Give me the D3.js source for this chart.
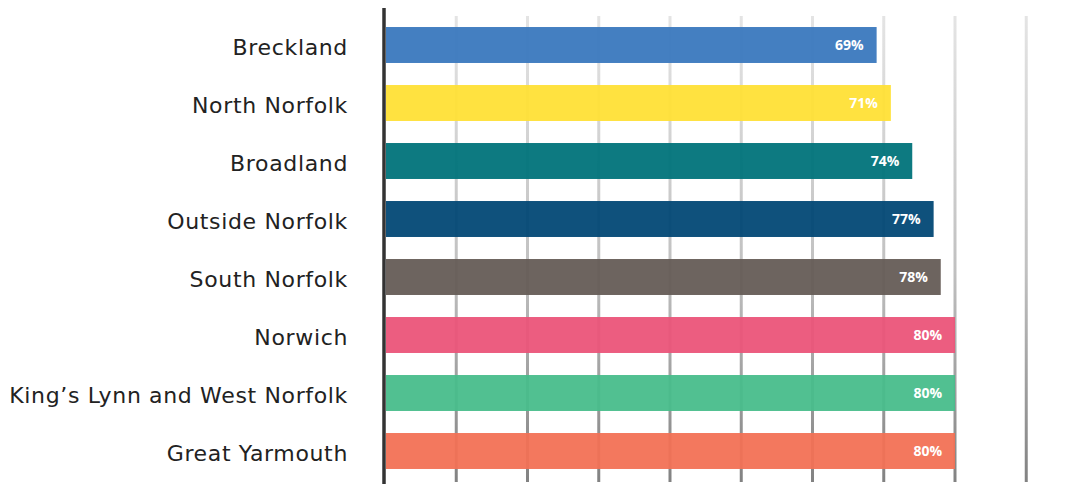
<!DOCTYPE html>
<html>
<head>
<meta charset="utf-8">
<script src="https://cdn.jsdelivr.net/npm/d3@7"></script>
<style>
  body { margin: 0; background: #fff; }
  svg { display: block; }
</style>
</head>
<body>
<svg id="chart"></svg>
<script>
var width = 1088;
var height = 484;

// data
var areas = ["Breckland", "North Norfolk", "Broadland", "Outside Norfolk",
  "South Norfolk", "Norwich", "King\u2019s Lynn and West Norfolk", "Great Yarmouth"];
var values = [69, 71, 74, 77, 78, 80, 80, 80];
var colors = ["#3a78be", "#ffe036", "#00737a", "#024875", "#655c56", "#eb5479", "#48bd8b", "#f27155"];
var gridTicks = [10, 20, 30, 40, 50, 60, 70, 80, 90];

var rows = areas.map(function (a, i) { return { name: a, value: values[i], color: colors[i] }; });

var svg = d3.select("#chart").attr("width", width).attr("height", height);

var x = d3.scaleLinear().domain([0, 100]).range([385, 1097.5]);
var y = d3.scaleBand().domain(areas).range([16, 480]).paddingInner(0.38).paddingOuter(0.19);

// gradient for the grid lines (light at top, dark at bottom)
var defs = svg.append("defs");
var grad = defs.append("linearGradient").attr("id", "gridGrad")
  .attr("gradientUnits", "userSpaceOnUse")
  .attr("x1", 0).attr("y1", 16).attr("x2", 0).attr("y2", 482);
grad.append("stop").attr("offset", "0%").attr("stop-color", "#e4e4e4");
grad.append("stop").attr("offset", "55%").attr("stop-color", "#c0c0c0");
grad.append("stop").attr("offset", "100%").attr("stop-color", "#828282");

// grid lines, behind the bars
svg.append("g").selectAll("line").data(gridTicks).enter().append("line")
  .attr("x1", function (d) { return x(d); })
  .attr("x2", function (d) { return x(d); })
  .attr("y1", 16).attr("y2", 482)
  .attr("stroke", "url(#gridGrad)")
  .attr("stroke-width", 3);

// bars, slightly see-through so the grid shows faintly
svg.append("g").selectAll("rect").data(rows).enter().append("rect")
  .attr("x", x(0) + 1)
  .attr("y", function (d) { return y(d.name); })
  .attr("width", function (d) { return x(d.value) - x(0) - 1; })
  .attr("height", y.bandwidth())
  .attr("fill", function (d) { return d.color; })
  .attr("fill-opacity", 0.95);

// vertical axis line
svg.append("line")
  .attr("x1", x(0) - 1).attr("x2", x(0) - 1)
  .attr("y1", 8).attr("y2", 484)
  .attr("stroke", "#333")
  .attr("stroke-width", 3.5);

// category labels
svg.append("g").selectAll("text").data(rows).enter().append("text")
  .attr("x", 348)
  .attr("y", function (d) { return y(d.name) + y.bandwidth() / 2 + 10; })
  .attr("text-anchor", "end")
  .style("font-family", "'DejaVu Sans', sans-serif")
  .style("font-size", "22px")
  .style("letter-spacing", "0.65px")
  .style("fill", "#222")
  .text(function (d) { return d.name; });

// value labels
svg.append("g").selectAll("text").data(rows).enter().append("text")
  .attr("x", function (d) { return x(d.value) - 13; })
  .attr("y", function (d) { return y(d.name) + y.bandwidth() / 2; })
  .attr("dy", "0.35em")
  .attr("text-anchor", "end")
  .style("font-family", "'Open Sans', sans-serif")
  .style("font-weight", "bold")
  .style("font-size", "14px")
  .style("fill", "#fff")
  .text(function (d) { return d.value + "%"; });
</script>
</body>
</html>
